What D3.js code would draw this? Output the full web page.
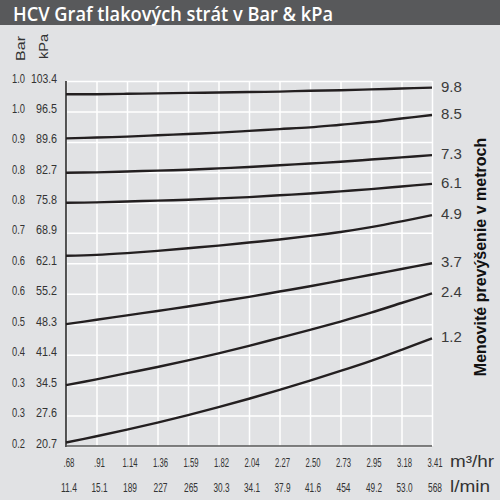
<!DOCTYPE html>
<html><head><meta charset="utf-8">
<script src="https://cdn.jsdelivr.net/npm/d3@7"></script>
<style>
html,body{margin:0;padding:0;background:#e1e2e4;}
svg{display:block;}
</style></head>
<body><svg id="c" width="500" height="500"></svg>
<script>
const title = "HCV Graf tlakových strát v Bar & kPa";
const flowM3 = [".68",".91","1.14","1.36","1.59","1.82","2.04","2.27","2.50","2.73","2.95","3.18","3.41"];
const flowLmin = ["11.4","15.1","189","227","265","30.3","34.1","37.9","41.6","454","49.2","53.0","568"];
const kpaTicks = [20.7,27.6,34.5,41.4,48.3,55.2,62.1,69.0,75.8,82.7,89.6,96.5,103.4];
const kpaLabels = ["20.7","27.6","34.5","41.4","48.3","55.2","62.1","68.9","75.8","82.7","89.6","96.5","103.4"];
const barLabels = ["0.2","0.3","0.3","0.4","0.5","0.6","0.6","0.7","0.8","0.8","0.9","1.0","1.0"];
const headNames = ["9.8","8.5","7.3","6.1","4.9","3.7","2.4","1.2"];
const s98 = [100.4,100.4,100.5,100.6,100.7,100.8,100.9,101.0,101.2,101.3,101.5,101.7,101.9];
const s85 = [90.4,90.6,90.8,91.1,91.4,91.7,92.1,92.5,92.9,93.5,94.1,94.9,95.7];
const s73 = [82.6,82.7,82.9,83.1,83.3,83.6,83.9,84.3,84.7,85.1,85.6,86.1,86.6];
const s61 = [75.8,75.9,76.1,76.3,76.5,76.8,77.1,77.5,77.9,78.4,78.9,79.5,80.1];
const s49 = [63.8,64.0,64.4,64.9,65.5,66.1,66.8,67.5,68.3,69.2,70.3,71.6,73.0];
const s37 = [48.3,49.3,50.3,51.3,52.3,53.4,54.5,55.7,56.9,58.2,59.5,60.8,62.1];
const s24 = [34.5,35.8,37.2,38.6,40.1,41.7,43.4,45.2,47.0,48.9,50.9,53.1,55.3];
const s12 = [21.5,22.9,24.4,26.0,27.7,29.5,31.4,33.4,35.5,37.7,40.0,42.5,45.1];
const seriesList = [s98,s85,s73,s61,s49,s37,s24,s12];
const yTitle = "Menovité prevýšenie v metroch";

const svg = d3.select("#c");
const L = 66, R = 432, T = 81, B = 446;
const x = d3.scalePoint().domain(flowM3).range([L, R]);
const y = d3.scaleLinear().domain([20.7, 103.4]).range([B, T]);

svg.append("rect").attr("width",500).attr("height",500).attr("fill","#e1e2e4");
// title bar
svg.append("rect").attr("x",0).attr("y",0).attr("width",500).attr("height",25).attr("fill","#58595b");
svg.append("text").attr("x",13).attr("y",21).attr("fill","#fff")
  .attr("font-family","'Open Sans', sans-serif").attr("font-size",19).attr("font-weight",600)
  .attr("textLength",320).attr("lengthAdjust","spacingAndGlyphs").text(title);

// grid via axes
const gx = svg.append("g").attr("transform",`translate(0,${B})`)
  .call(d3.axisBottom(x).tickSize(-(B-T)).tickFormat(""));
gx.selectAll(".tick line").attr("stroke","#fff").attr("stroke-width",1.5);
gx.select(".domain").remove();
const gy = svg.append("g").attr("transform",`translate(${L},0)`)
  .call(d3.axisLeft(y).tickValues(kpaTicks).tickSize(-(R-L)).tickFormat(""));
gy.selectAll(".tick line").attr("stroke","#fff").attr("stroke-width",1.5);
gy.select(".domain").remove();

// axes lines
svg.append("line").attr("x1",L).attr("x2",L).attr("y1",T).attr("y2",B+1).attr("stroke","#2b2b2b").attr("stroke-width",1.6);
svg.append("line").attr("x1",L).attr("x2",R).attr("y1",B).attr("y2",B).attr("stroke","#555").attr("stroke-width",1.6);

// curves
const line = d3.line().x((d,i)=>x(flowM3[i])).y(d=>y(d)).curve(d3.curveCatmullRom.alpha(0.5));
svg.append("g").selectAll("path").data(seriesList).join("path")
  .attr("d",line).attr("fill","none").attr("stroke","#231f20").attr("stroke-width",2.4);

// y labels
const lblFont = "'Liberation Sans', Arial, sans-serif";
const yl = svg.append("g").attr("font-family",lblFont).attr("font-size",13).attr("fill","#333");
kpaTicks.forEach((v,i)=>{
  yl.append("text").attr("x",57).attr("y",y(v)+1.5).attr("text-anchor","end")
    .attr("textLength", kpaLabels[i].length===5?26:21).attr("lengthAdjust","spacingAndGlyphs").text(kpaLabels[i]);
  yl.append("text").attr("x",25).attr("y",y(v)+1.5).attr("text-anchor","end")
    .attr("textLength",13).attr("lengthAdjust","spacingAndGlyphs").text(barLabels[i]);
});
// headers
svg.append("text").attr("transform","translate(25,61) rotate(-90)").attr("font-family",lblFont)
  .attr("font-size",13).attr("fill","#333").attr("textLength",25).attr("lengthAdjust","spacingAndGlyphs").text("Bar");
svg.append("text").attr("transform","translate(48,59) rotate(-90)").attr("font-family",lblFont)
  .attr("font-size",13).attr("fill","#333").attr("textLength",25).attr("lengthAdjust","spacingAndGlyphs").text("kPa");

// x labels
const xl = svg.append("g").attr("font-family",lblFont).attr("font-size",12.5).attr("fill","#333").attr("text-anchor","middle");
flowM3.forEach((f,i)=>{
  const w1 = f.length>=4?15:11;
  xl.append("text").attr("x",x(f)+3).attr("y",467).attr("textLength",w1).attr("lengthAdjust","spacingAndGlyphs").text(f);
  const g = flowLmin[i];
  const w2 = g.length>=4?16:14;
  xl.append("text").attr("x",x(f)+3).attr("y",492).attr("textLength",w2).attr("lengthAdjust","spacingAndGlyphs").text(g);
});
svg.append("text").attr("x",450).attr("y",467).attr("font-family",lblFont).attr("font-size",16).attr("fill","#333")
  .attr("textLength",44).attr("lengthAdjust","spacingAndGlyphs").text("m³/hr");
svg.append("text").attr("x",450).attr("y",492).attr("font-family",lblFont).attr("font-size",16).attr("fill","#333")
  .attr("textLength",40).attr("lengthAdjust","spacingAndGlyphs").text("l/min");

// head labels
const hl = svg.append("g").attr("font-family",lblFont).attr("font-size",15).attr("fill","#3a3a3a");
seriesList.forEach((s,i)=>{
  hl.append("text").attr("x",441).attr("y",y(s[s.length-1])+4).text(headNames[i]);
});
// right title
svg.append("text").attr("transform","translate(486,257) rotate(-90)").attr("text-anchor","middle")
  .attr("font-family",lblFont).attr("font-size",16).attr("font-weight","bold").attr("fill","#111").text(yTitle);
</script></body></html>
